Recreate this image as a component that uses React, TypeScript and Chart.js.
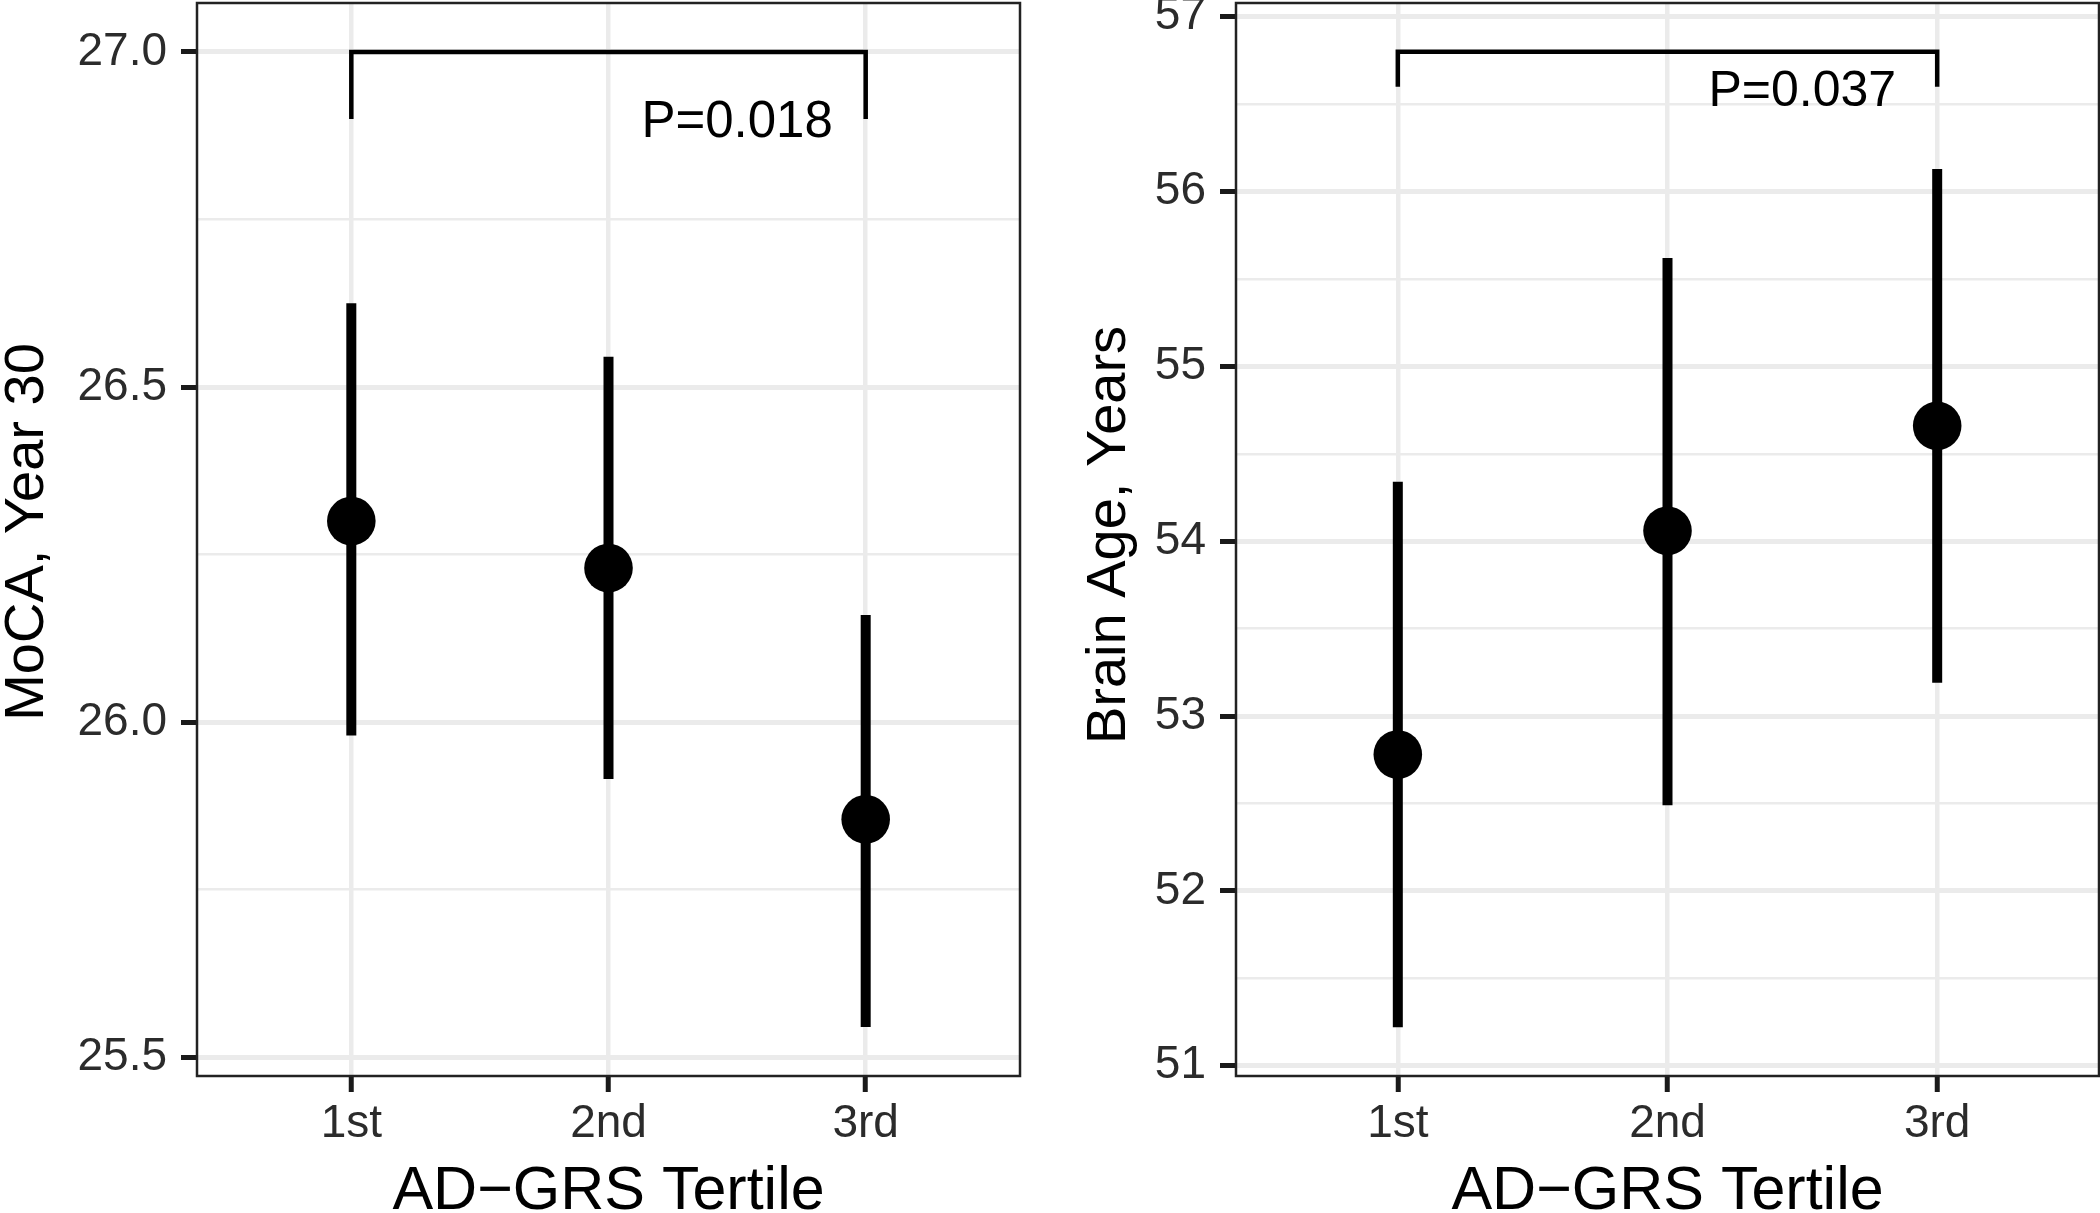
import React, { useEffect, useRef } from 'react';
import { Chart, registerables } from 'chart.js';

Chart.register(...registerables);

// ---------- data ----------
const tertiles = ['1st', '2nd', '3rd'];
const tertilePos = [1, 2, 3];

const mocaMean = [26.3, 26.23, 25.855];
const mocaLower = [25.98, 25.915, 25.545];
const mocaUpper = [26.625, 26.545, 26.16];
const mocaMajorTicks = [25.5, 26.0, 26.5, 27.0];
const mocaMinorTicks = [25.75, 26.25, 26.75];
const mocaBracketY = [26.9, 27.0, 27.0, 26.9];
const mocaP = 'P=0.018';
const mocaPY = 26.9;

const brainMean = [52.78, 54.06, 54.66];
const brainLower = [51.22, 52.49, 53.19];
const brainUpper = [54.34, 55.62, 56.13];
const brainMajorTicks = [51, 52, 53, 54, 55, 56, 57];
const brainMinorTicks = [51.5, 52.5, 53.5, 54.5, 55.5, 56.5];
const brainBracketY = [56.6, 56.8, 56.8, 56.6];
const brainP = 'P=0.037';
const brainPY = 56.59;

const bracketX = [1, 1, 3, 3];
const pLabelX = 2.5;

const xTitle = 'AD\u2212GRS Tertile';
const yTitles = ['MoCA, Year 30', 'Brain Age, Years'];

// ---------- styles ----------
const FONT = '"Liberation Sans", Arial, Helvetica, sans-serif';
const TICK_COLOR = '#2b2b2b';
const GRID = '#EBEBEB';

type Panel = {
  mean: number[];
  lower: number[];
  upper: number[];
  major: number[];
  minor: number[];
  bracketY: number[];
  pText: string;
  pY: number;
  yMin: number;
  yMax: number;
  decimals: number;
  yTitle: string;
  yTitleX: number;
  yTitleY: number;
  yAxisWidth: number;
  padRight: number;
  pFont: number;
};

const panels: Panel[] = [
  {
    mean: mocaMean, lower: mocaLower, upper: mocaUpper,
    major: mocaMajorTicks, minor: mocaMinorTicks,
    bracketY: mocaBracketY, pText: mocaP, pY: mocaPY,
    yMin: 25.472, yMax: 27.073, decimals: 1,
    yTitle: yTitles[0], yTitleX: 22.5, yTitleY: 532,
    yAxisWidth: 197, padRight: 30, pFont: 51,
  },
  {
    mean: brainMean, lower: brainLower, upper: brainUpper,
    major: brainMajorTicks, minor: brainMinorTicks,
    bracketY: brainBracketY, pText: brainP, pY: brainPY,
    yMin: 50.941, yMax: 57.079, decimals: 0,
    yTitle: yTitles[1], yTitleX: 54.7, yTitleY: 535,
    yAxisWidth: 186, padRight: 1, pFont: 50,
  },
];

const W = 1050;
const H = 1213;
const X_AXIS_H = 137;

function capText(ctx: CanvasRenderingContext2D, text: string, x: number, capCenterY: number, size: number) {
  ctx.font = `${size}px ${FONT}`;
  ctx.textAlign = 'center';
  ctx.textBaseline = 'alphabetic';
  ctx.fillText(text, x, capCenterY + 0.358 * size);
}

function makeDecor(p: Panel) {
  return {
    id: 'decor',
    afterDatasetsDraw(chart: any) {
      const { ctx, chartArea } = chart;
      ctx.save();
      ctx.strokeStyle = '#222222';
      ctx.lineWidth = 2.5;
      ctx.strokeRect(chartArea.left, chartArea.top, chartArea.right - chartArea.left, chartArea.bottom - chartArea.top);
      ctx.restore();
    },
    afterDraw(chart: any) {
      const { ctx } = chart;
      const xs = chart.scales.x;
      const ys = chart.scales.y;
      ctx.save();
      ctx.fillStyle = '#000000';
      // p-value label
      capText(ctx, p.pText, xs.getPixelForValue(pLabelX), ys.getPixelForValue(p.pY), p.pFont);
      // x title
      capText(ctx, xTitle, xs.getPixelForValue(2), 1187, 61);
      // y title (rotated)
      ctx.translate(p.yTitleX, p.yTitleY);
      ctx.rotate(-Math.PI / 2);
      capText(ctx, p.yTitle, 0, 0, 56);
      ctx.restore();
    },
  };
}

function buildChart(canvas: HTMLCanvasElement, p: Panel) {
  const isMajor = (v: number) => p.major.some((m) => Math.abs(m - v) < 1e-9);
  const datasets: any[] = [
    {
      label: 'Mean',
      data: tertilePos.map((x, i) => ({ x, y: p.mean[i] })),
      showLine: false,
      pointRadius: 24.3,
      pointHoverRadius: 24.3,
      pointBackgroundColor: '#000000',
      pointBorderWidth: 0,
      borderColor: '#000000',
      order: 0,
    },
    ...tertilePos.map((x, i) => ({
      label: `CI ${tertiles[i]}`,
      data: [
        { x, y: p.lower[i] },
        { x, y: p.upper[i] },
      ],
      showLine: true,
      borderColor: '#000000',
      borderWidth: 10,
      borderCapStyle: 'butt',
      pointRadius: 0,
      pointHoverRadius: 0,
      order: 1,
    })),
    {
      label: 'Bracket',
      data: bracketX.map((x, i) => ({ x, y: p.bracketY[i] })),
      showLine: true,
      borderColor: '#000000',
      borderWidth: 4.5,
      borderJoinStyle: 'miter',
      borderCapStyle: 'butt',
      pointRadius: 0,
      pointHoverRadius: 0,
      order: 1,
    },
  ];

  return new Chart(canvas, {
    type: 'scatter',
    data: { datasets },
    options: {
      responsive: false,
      animation: false,
      events: [],
      layout: { autoPadding: false, padding: { top: 3, right: p.padRight, left: 0, bottom: 0 } },
      plugins: { legend: { display: false }, tooltip: { enabled: false }, title: { display: false } },
      scales: {
        x: {
          type: 'linear',
          min: 0.4,
          max: 3.6,
          bounds: 'data',
          afterBuildTicks: (s: any) => {
            s.ticks = tertilePos.map((v) => ({ value: v }));
          },
          afterFit: (s: any) => {
            s.height = X_AXIS_H;
            s.paddingLeft = 0;
            s.paddingRight = 0;
          },
          ticks: {
            autoSkip: false,
            maxRotation: 0,
            minRotation: 0,
            padding: 9,
            color: TICK_COLOR,
            font: { family: FONT, size: 46, lineHeight: 1 },
            callback: (_v: any, i: number) => tertiles[i],
          },
          grid: {
            color: GRID,
            lineWidth: 4.5,
            drawTicks: true,
            tickLength: 16,
            tickColor: '#1a1a1a',
            tickWidth: 5,
          },
          border: { display: false },
        },
        y: {
          type: 'linear',
          min: p.yMin,
          max: p.yMax,
          bounds: 'data',
          afterBuildTicks: (s: any) => {
            s.ticks = [...p.major, ...p.minor].sort((a, b) => a - b).map((v) => ({ value: v }));
          },
          afterFit: (s: any) => {
            s.width = p.yAxisWidth;
            s.paddingTop = 0;
            s.paddingBottom = 0;
          },
          ticks: {
            autoSkip: false,
            padding: 14,
            color: TICK_COLOR,
            font: { family: FONT, size: 46, lineHeight: 1 },
            callback: (v: any) => (isMajor(Number(v)) ? Number(v).toFixed(p.decimals) : ''),
          },
          grid: {
            color: GRID,
            lineWidth: (c: any) => (isMajor(c.tick.value) ? 5 : 2.5),
            drawTicks: true,
            tickLength: 16,
            tickColor: (c: any) => (isMajor(c.tick.value) ? '#1a1a1a' : 'rgba(0,0,0,0)'),
            tickWidth: 5,
          },
          border: { display: false },
        },
      },
    } as any,
    plugins: [makeDecor(p)],
  });
}

function PanelChart({ panel, left }: { panel: Panel; left: number }) {
  const ref = useRef<HTMLCanvasElement | null>(null);
  useEffect(() => {
    if (!ref.current) return;
    const chart = buildChart(ref.current, panel);
    return () => chart.destroy();
  }, [panel]);
  return (
    <canvas
      ref={ref}
      width={W}
      height={H}
      style={{ position: 'absolute', left, top: 0, width: W, height: H, display: 'block' }}
    />
  );
}

export default function App() {
  return (
    <div style={{ position: 'absolute', left: 0, top: 0, width: 2100, height: 1213, background: '#ffffff', overflow: 'hidden' }}>
      <PanelChart panel={panels[0]} left={0} />
      <PanelChart panel={panels[1]} left={1050} />
    </div>
  );
}
